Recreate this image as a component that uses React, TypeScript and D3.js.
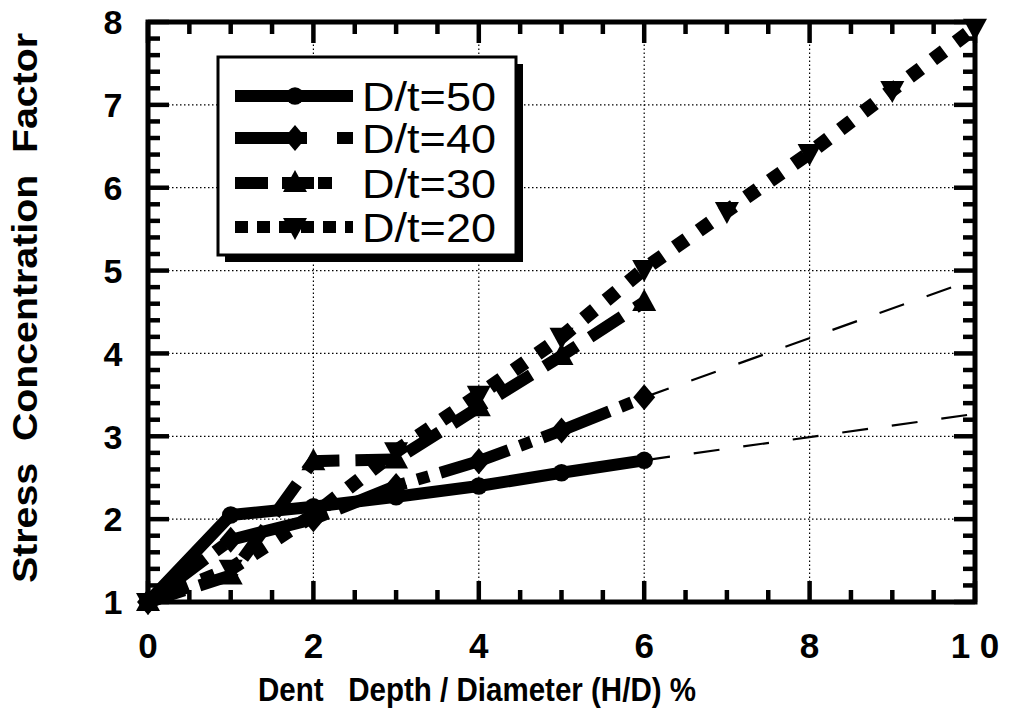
import * as d3 from 'd3';

// x = dent depth / diameter (%), y = stress concentration factor
const depthX = [0, 1, 2, 3, 4, 5, 6];
const depthX20 = [0, 1, 2, 3, 4, 5, 6, 7, 8, 9, 10];
const scf50 = [1, 2.05, 2.15, 2.27, 2.4, 2.56, 2.71];
const scf40 = [1, 1.75, 2.0, 2.4, 2.7, 3.07, 3.47];
const scf30 = [1, 1.32, 2.7, 2.72, 3.35, 3.97, 4.62];
const scf20 = [1, 1.4, 2.05, 2.82, 3.5, 4.2, 5.02, 5.72, 6.42, 7.18, 7.93];

// thin dashed extrapolations
const extrapX = [6, 10];
const extrap50 = [2.71, 3.27];
const extrap40 = [3.47, 4.9];

const xTicks = [0, 2, 4, 6, 8, 10];
const xTickLabels = ['0', '2', '4', '6', '8', '1 0'];
const yTicks = [1, 2, 3, 4, 5, 6, 7, 8];
const legendLabels = ['D/t=50', 'D/t=40', 'D/t=30', 'D/t=20'];

const FONT = '"Liberation Sans", Arial, Helvetica, sans-serif';

const x = d3.scaleLinear().domain([0, 10]).range([148, 975]);
const y = d3.scaleLinear().domain([1, 8]).range([602, 22]);

type Pt = [number, number];
const zip = (xs: number[], ys: number[]): Pt[] => xs.map((v, i) => [v, ys[i]]);
const line = d3
  .line<Pt>()
  .x((d) => x(d[0]))
  .y((d) => y(d[1]));

const marker = (kind: string, s = 1) => {
  if (kind === 'circle') return d3.symbol(d3.symbolCircle, 240 * s * s)() as string;
  if (kind === 'diamond') return `M0,${-13 * s}L${11 * s},0L0,${13 * s}L${-11 * s},0Z`;
  if (kind === 'up') return `M0,${-13 * s}L${12 * s},${9 * s}L${-12 * s},${9 * s}Z`;
  return `M0,${13 * s}L${12 * s},${-9 * s}L${-12 * s},${-9 * s}Z`;
};

const series = [
  { xs: depthX, ys: scf50, dash: 'none', width: 12, mark: 'circle', legendDash: 'none' },
  { xs: depthX, ys: scf40, dash: '72 12 12 12', width: 12, mark: 'diamond', legendDash: '72 30 16 200' },
  { xs: depthX, ys: scf30, dash: '38 16', width: 12, mark: 'up', legendDash: '33 14 32 4 14 200' },
  { xs: depthX20, ys: scf20, dash: '14 15', width: 14, mark: 'down', legendDash: '13 9 13 9 13 9 13 9 13 9 13' },
];

export default function App() {
  const minorX = d3.range(0, 10.001, 0.5);
  const minorY = d3.range(1, 8.001, 0.2);
  const gridX = [2, 4, 6, 8];
  const gridY = [2, 3, 4, 5, 6, 7];
  const [x0, x1] = x.range();
  const [y0, y1] = y.range();
  const isMajorX = (v: number) => Math.abs(v / 2 - Math.round(v / 2)) < 1e-6;
  const isMajorY = (v: number) => Math.abs(v - Math.round(v)) < 1e-6;

  const legX0 = 235;
  const legX1 = 353;
  const legRows = [96, 138, 183, 227];

  return (
    <svg
      width={1010}
      height={719}
      viewBox="0 0 1010 719"
      style={{ position: 'absolute', left: 0, top: 0, background: '#fff' }}
    >
      <rect width={1010} height={719} fill="#fff" />

      {/* dotted grid */}
      {gridX.map((v) => (
        <line key={'gx' + v} x1={x(v)} x2={x(v)} y1={y0} y2={y1} stroke="#000" strokeWidth={1.2} strokeDasharray="1.5 2.5" />
      ))}
      {gridY.map((v) => (
        <line key={'gy' + v} x1={x0} x2={x1} y1={y(v)} y2={y(v)} stroke="#000" strokeWidth={1.2} strokeDasharray="1.5 2.5" />
      ))}

      {/* extrapolations */}
      <path d={line(zip(extrapX, extrap50)) as string} fill="none" stroke="#000" strokeWidth={2.2} strokeDasharray="26 24" />
      <path d={line(zip(extrapX, extrap40)) as string} fill="none" stroke="#000" strokeWidth={2.2} strokeDasharray="26 24" />

      {/* series lines */}
      {series.map((s, i) => (
        <path
          key={'s' + i}
          d={line(zip(s.xs, s.ys)) as string}
          fill="none"
          stroke="#000"
          strokeWidth={s.width}
          strokeDasharray={s.dash}
          strokeLinejoin="miter"
        />
      ))}

      {/* frame */}
      <rect x={x0} y={y1} width={x1 - x0} height={y0 - y1} fill="none" stroke="#000" strokeWidth={5} />

      {/* ticks, inward on all four sides */}
      {minorX.map((v) => {
        const L = isMajorX(v) ? 21 : 12;
        return (
          <g key={'tx' + v}>
            <line x1={x(v)} x2={x(v)} y1={y0} y2={y0 - L} stroke="#000" strokeWidth={4.5} />
            <line x1={x(v)} x2={x(v)} y1={y1} y2={y1 + L} stroke="#000" strokeWidth={4.5} />
          </g>
        );
      })}
      {minorY.map((v) => {
        const L = isMajorY(v) ? 21 : 12;
        return (
          <g key={'ty' + v.toFixed(1)}>
            <line x1={x0} x2={x0 + L} y1={y(v)} y2={y(v)} stroke="#000" strokeWidth={4.5} />
            <line x1={x1} x2={x1 - L} y1={y(v)} y2={y(v)} stroke="#000" strokeWidth={4.5} />
          </g>
        );
      })}

      {/* markers */}
      {series.map((s, i) =>
        s.xs.map((v, j) => (
          <path key={`m${i}-${j}`} d={marker(s.mark)} transform={`translate(${x(v)},${y(s.ys[j])})`} fill="#000" />
        ))
      )}

      {/* tick labels */}
      {yTicks.map((v) => (
        <text key={'yl' + v} x={113} y={y(v)} dy="0.36em" textAnchor="middle" fontFamily={FONT} fontWeight="bold" fontSize={34}>
          {v}
        </text>
      ))}
      {xTicks.map((v, i) => (
        <text key={'xl' + v} x={x(v)} y={658} textAnchor="middle" fontFamily={FONT} fontWeight="bold" fontSize={35} style={{ whiteSpace: 'pre' }}>
          {xTickLabels[i]}
        </text>
      ))}

      {/* axis titles */}
      <text
        x={258}
        y={701}
        fontFamily={FONT}
        fontWeight="bold"
        fontSize={33}
        textLength={438}
        lengthAdjust="spacingAndGlyphs"
        style={{ whiteSpace: 'pre' }}
      >
        {'Dent   Depth / Diameter (H/D) %'}
      </text>
      <text
        transform="translate(37,583) rotate(-90)"
        fontFamily={FONT}
        fontWeight="bold"
        fontSize={35}
        textLength={550}
        lengthAdjust="spacingAndGlyphs"
        style={{ whiteSpace: 'pre' }}
      >
        {'Stress  Concentration  Factor'}
      </text>

      {/* legend */}
      <rect x={225} y={64} width={298} height={198} fill="#000" />
      <rect x={218} y={57} width={298} height={198} fill="#fff" stroke="#000" strokeWidth={3} />
      {series.map((s, i) => (
        <g key={'lg' + i}>
          <line
            x1={legX0}
            x2={legX1}
            y1={legRows[i]}
            y2={legRows[i]}
            stroke="#000"
            strokeWidth={12}
            strokeDasharray={s.legendDash}
          />
          <path d={marker(s.mark)} transform={`translate(295,${legRows[i]})`} fill="#000" />
          <text
            x={362}
            y={legRows[i] + 15}
            fontFamily={FONT}
            fontSize={41}
            textLength={134}
            lengthAdjust="spacingAndGlyphs"
          >
            {legendLabels[i]}
          </text>
        </g>
      ))}
    </svg>
  );
}
